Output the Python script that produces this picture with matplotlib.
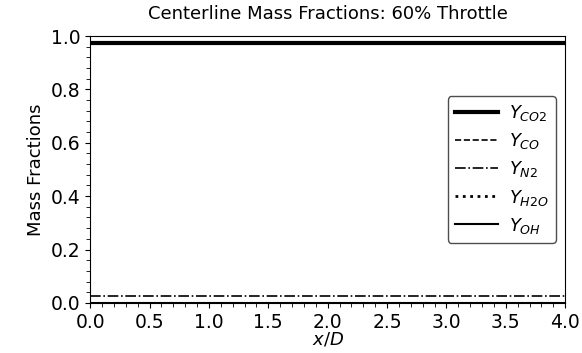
import numpy as np
import matplotlib
matplotlib.use("Agg")
import matplotlib.pyplot as plt
from matplotlib.ticker import AutoMinorLocator

# centerline positions and mass fractions (flat profiles)
xd = [0.0, 0.5, 1.0, 1.5, 2.0, 2.5, 3.0, 3.5, 4.0]
y_co2 = [0.973] * 9
y_co = [0.0] * 9
y_n2 = [0.027] * 9
y_h2o = [0.0] * 9
y_oh = [0.0] * 9

fig = plt.figure(figsize=(5.82, 3.53), dpi=100)
ax = fig.add_axes([0.155, 0.142, 0.816, 0.756])

ax.plot(xd, y_co2, "-k", lw=3, label="$Y_{CO2}$")
ax.plot(xd, y_co, "--k", lw=1.2, label="$Y_{CO}$")
ax.plot(xd, y_n2, "-.k", lw=1.2, label="$Y_{N2}$")
ax.plot(xd, y_h2o, ":k", lw=2, label="$Y_{H2O}$")
ax.plot(xd, y_oh, "-k", lw=1.5, label="$Y_{OH}$")

ax.set_xlim(0, 4)
ax.set_ylim(0, 1)
ax.xaxis.set_minor_locator(AutoMinorLocator(5))
ax.yaxis.set_minor_locator(AutoMinorLocator(5))
ax.tick_params(labelsize=13.5)
ax.tick_params(which="minor", length=3)

ax.set_xlabel("$x/D$", fontsize=13, labelpad=-1)
ax.set_ylabel("Mass Fractions", fontsize=13)
ax.set_title("Centerline Mass Fractions: 60% Throttle", fontsize=13, pad=12)

ax.legend(loc="center right", fontsize=13, handlelength=2.4,
          handletextpad=0.6, labelspacing=0.45,
          edgecolor="0.3", framealpha=1)

plt.savefig("out.png")
